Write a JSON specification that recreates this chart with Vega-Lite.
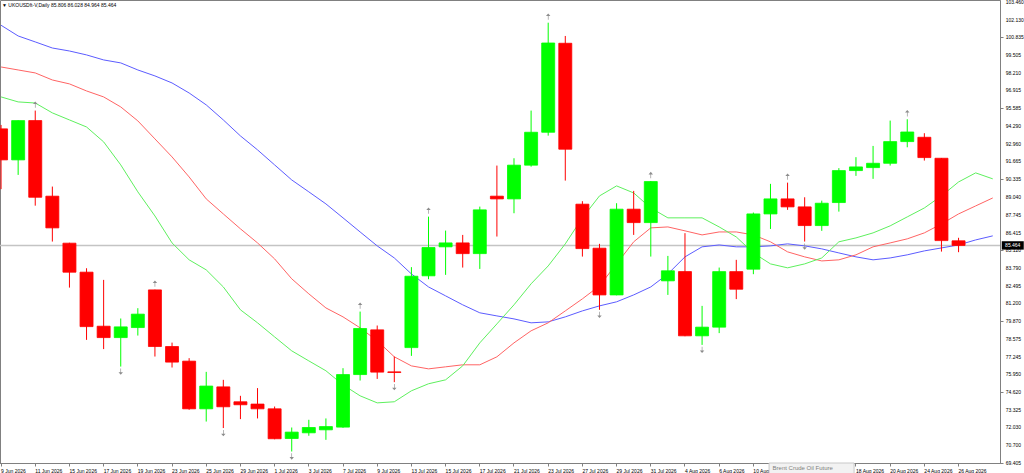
{
  "$schema": "https://vega.github.io/schema/vega-lite/v6.json",
  "width": 1000,
  "height": 463,
  "autosize": {"type": "none"},
  "padding": {"left": 0, "top": 0, "right": 24, "bottom": 10},
  "background": "white",
  "title": {
    "text": "▼ UKOUSDft-V,Daily  85.806 86.028 84.964 85.464",
    "anchor": "start",
    "frame": "group",
    "offset": -8,
    "dx": 2,
    "fontSize": 5,
    "fontWeight": "normal",
    "font": "Liberation Sans",
    "color": "black"
  },
  "config": {
    "view": {"stroke": "#808080"},
    "font": "Liberation Sans"
  },
  "datasets": {
    "priceLabels": [
      {"v": 103.46}, {"v": 102.13}, {"v": 100.835}, {"v": 99.505}, {"v": 98.21}, {"v": 96.915}, {"v": 95.585}, {"v": 94.29}, {"v": 92.96},
      {"v": 91.665}, {"v": 90.335}, {"v": 89.04}, {"v": 87.745}, {"v": 86.415}, {"v": 85.12}, {"v": 83.79}, {"v": 82.495}, {"v": 81.2},
      {"v": 79.87}, {"v": 78.575}, {"v": 77.245}, {"v": 75.95}, {"v": 74.62}, {"v": 73.325}, {"v": 72.03}, {"v": 70.7}, {"v": 69.405}
    ]
  },
  "data": {
    "values": [
      {"date": "9 Jun 2026", "open": 94.07, "high": 94.36, "low": 89.62, "close": 91.78, "blue": 101.72, "red": 98.64, "green": 96.43},
      {"date": "10 Jun 2026", "open": 91.78, "high": 94.7, "low": 90.67, "close": 94.68, "blue": 100.93, "red": 98.42, "green": 96.06},
      {"date": "11 Jun 2026", "open": 94.68, "high": 95.42, "low": 88.4, "close": 89.02, "blue": 100.49, "red": 98.2, "green": 95.98, "fractal": "up"},
      {"date": "12 Jun 2026", "open": 89.1, "high": 89.81, "low": 85.75, "close": 86.76, "blue": 100.04, "red": 97.68, "green": 95.25},
      {"date": "15 Jun 2026", "open": 85.63, "high": 85.66, "low": 82.35, "close": 83.49, "blue": 99.82, "red": 97.39, "green": 94.73},
      {"date": "16 Jun 2026", "open": 83.49, "high": 83.78, "low": 78.49, "close": 79.47, "blue": 99.53, "red": 96.87, "green": 94.21},
      {"date": "17 Jun 2026", "open": 79.5, "high": 82.92, "low": 77.81, "close": 78.66, "blue": 99.16, "red": 96.43, "green": 93.11},
      {"date": "18 Jun 2026", "open": 78.66, "high": 80.07, "low": 76.52, "close": 79.45, "blue": 98.94, "red": 95.69, "green": 91.41, "fractal": "down"},
      {"date": "19 Jun 2026", "open": 79.4, "high": 80.83, "low": 78.81, "close": 80.39, "blue": 98.42, "red": 94.66, "green": 89.42},
      {"date": "22 Jun 2026", "open": 82.18, "high": 82.2, "low": 77.26, "close": 78.0, "blue": 97.98, "red": 93.33, "green": 87.64, "fractal": "up"},
      {"date": "23 Jun 2026", "open": 78.0, "high": 78.29, "low": 76.45, "close": 76.85, "blue": 97.46, "red": 92.0, "green": 85.65},
      {"date": "24 Jun 2026", "open": 76.92, "high": 77.14, "low": 73.33, "close": 73.4, "blue": 96.72, "red": 90.52, "green": 84.4},
      {"date": "25 Jun 2026", "open": 73.4, "high": 76.13, "low": 72.46, "close": 75.08, "blue": 95.84, "red": 88.9, "green": 83.66},
      {"date": "26 Jun 2026", "open": 75.02, "high": 75.54, "low": 71.98, "close": 73.55, "blue": 94.73, "red": 87.79, "green": 82.4, "fractal": "down"},
      {"date": "29 Jun 2026", "open": 73.92, "high": 74.36, "low": 72.64, "close": 73.7, "blue": 93.55, "red": 86.69, "green": 80.71},
      {"date": "30 Jun 2026", "open": 73.75, "high": 74.93, "low": 72.69, "close": 73.4, "blue": 92.52, "red": 85.65, "green": 79.75},
      {"date": "1 Jul 2026", "open": 73.4, "high": 73.57, "low": 71.15, "close": 71.19, "blue": 91.41, "red": 84.47, "green": 78.71},
      {"date": "2 Jul 2026", "open": 71.21, "high": 72.02, "low": 70.25, "close": 71.68, "blue": 90.3, "red": 83.0, "green": 77.68, "fractal": "down"},
      {"date": "3 Jul 2026", "open": 71.63, "high": 72.59, "low": 71.41, "close": 72.02, "blue": 89.42, "red": 81.89, "green": 76.94},
      {"date": "6 Jul 2026", "open": 71.85, "high": 72.69, "low": 71.11, "close": 72.09, "blue": 88.53, "red": 80.85, "green": 76.21},
      {"date": "7 Jul 2026", "open": 72.05, "high": 76.4, "low": 72.0, "close": 75.93, "blue": 87.5, "red": 80.19, "green": 75.17},
      {"date": "8 Jul 2026", "open": 75.93, "high": 80.58, "low": 75.49, "close": 79.33, "blue": 86.46, "red": 79.38, "green": 74.36, "fractal": "up"},
      {"date": "9 Jul 2026", "open": 79.23, "high": 79.55, "low": 75.61, "close": 76.11, "blue": 85.43, "red": 78.42, "green": 73.84},
      {"date": "10 Jul 2026", "open": 76.13, "high": 77.26, "low": 75.37, "close": 76.08, "blue": 84.54, "red": 77.24, "green": 73.92, "fractal": "down"},
      {"date": "13 Jul 2026", "open": 77.92, "high": 83.86, "low": 77.31, "close": 83.19, "blue": 83.36, "red": 76.57, "green": 74.73},
      {"date": "14 Jul 2026", "open": 83.22, "high": 87.59, "low": 82.97, "close": 85.31, "blue": 82.4, "red": 76.35, "green": 75.25, "fractal": "up"},
      {"date": "15 Jul 2026", "open": 85.36, "high": 86.56, "low": 83.29, "close": 85.65, "blue": 81.74, "red": 76.5, "green": 75.54},
      {"date": "16 Jul 2026", "open": 85.65, "high": 86.24, "low": 83.83, "close": 84.86, "blue": 81.08, "red": 76.65, "green": 76.57},
      {"date": "17 Jul 2026", "open": 84.86, "high": 88.33, "low": 83.73, "close": 88.09, "blue": 80.49, "red": 76.65, "green": 78.27},
      {"date": "20 Jul 2026", "open": 89.1, "high": 91.36, "low": 86.12, "close": 88.9, "blue": 80.26, "red": 77.24, "green": 79.67},
      {"date": "21 Jul 2026", "open": 88.9, "high": 91.9, "low": 87.84, "close": 91.39, "blue": 80.04, "red": 78.27, "green": 81.08},
      {"date": "22 Jul 2026", "open": 91.39, "high": 95.42, "low": 91.28, "close": 93.82, "blue": 79.75, "red": 79.16, "green": 82.63},
      {"date": "23 Jul 2026", "open": 93.82, "high": 101.91, "low": 93.57, "close": 100.41, "blue": 79.82, "red": 79.75, "green": 83.95, "fractal": "up"},
      {"date": "24 Jul 2026", "open": 100.39, "high": 100.93, "low": 90.25, "close": 92.57, "blue": 80.19, "red": 80.63, "green": 85.58},
      {"date": "27 Jul 2026", "open": 88.51, "high": 88.73, "low": 84.64, "close": 85.23, "blue": 80.63, "red": 81.52, "green": 87.5},
      {"date": "28 Jul 2026", "open": 85.26, "high": 85.58, "low": 80.71, "close": 81.81, "blue": 81.0, "red": 82.48, "green": 89.12, "fractal": "down"},
      {"date": "29 Jul 2026", "open": 81.81, "high": 88.58, "low": 81.78, "close": 88.14, "blue": 81.3, "red": 84.1, "green": 89.86},
      {"date": "30 Jul 2026", "open": 88.14, "high": 89.49, "low": 86.24, "close": 87.15, "blue": 81.81, "red": 85.73, "green": 89.34},
      {"date": "31 Jul 2026", "open": 87.15, "high": 90.22, "low": 84.64, "close": 90.18, "blue": 82.4, "red": 86.76, "green": 88.23, "fractal": "up"},
      {"date": "3 Aug 2026", "open": 82.85, "high": 84.69, "low": 81.81, "close": 83.59, "blue": 83.36, "red": 86.83, "green": 87.5},
      {"date": "4 Aug 2026", "open": 83.53, "high": 86.37, "low": 78.76, "close": 78.79, "blue": 84.62, "red": 86.54, "green": 87.5},
      {"date": "5 Aug 2026", "open": 78.79, "high": 81.0, "low": 78.12, "close": 79.43, "blue": 85.36, "red": 86.24, "green": 87.5, "fractal": "down"},
      {"date": "6 Aug 2026", "open": 79.43, "high": 83.83, "low": 78.99, "close": 83.53, "blue": 85.5, "red": 86.46, "green": 86.83},
      {"date": "7 Aug 2026", "open": 83.53, "high": 84.4, "low": 81.5, "close": 82.23, "blue": 85.36, "red": 86.46, "green": 86.09},
      {"date": "10 Aug 2026", "open": 83.71, "high": 87.89, "low": 83.34, "close": 87.79, "blue": 85.36, "red": 86.24, "green": 84.91},
      {"date": "11 Aug 2026", "open": 87.79, "high": 90.01, "low": 86.68, "close": 88.9, "blue": 85.43, "red": 85.73, "green": 84.1},
      {"date": "12 Aug 2026", "open": 88.9, "high": 90.1, "low": 88.09, "close": 88.31, "blue": 85.58, "red": 84.99, "green": 83.81, "fractal": "up"},
      {"date": "13 Aug 2026", "open": 88.31, "high": 89.02, "low": 85.75, "close": 86.93, "blue": 85.43, "red": 84.62, "green": 84.1, "fractal": "down"},
      {"date": "14 Aug 2026", "open": 86.93, "high": 88.77, "low": 86.54, "close": 88.58, "blue": 85.21, "red": 84.32, "green": 84.54},
      {"date": "17 Aug 2026", "open": 88.63, "high": 91.17, "low": 87.96, "close": 90.99, "blue": 84.91, "red": 84.4, "green": 85.73},
      {"date": "18 Aug 2026", "open": 90.99, "high": 91.98, "low": 90.6, "close": 91.26, "blue": 84.62, "red": 84.77, "green": 86.02},
      {"date": "19 Aug 2026", "open": 91.21, "high": 92.81, "low": 90.38, "close": 91.53, "blue": 84.4, "red": 85.36, "green": 86.39},
      {"date": "20 Aug 2026", "open": 91.53, "high": 94.68, "low": 91.36, "close": 93.13, "blue": 84.54, "red": 85.65, "green": 86.91},
      {"date": "21 Aug 2026", "open": 93.13, "high": 94.78, "low": 92.71, "close": 93.84, "blue": 84.77, "red": 85.95, "green": 87.57, "fractal": "up"},
      {"date": "24 Aug 2026", "open": 93.45, "high": 93.75, "low": 91.73, "close": 91.95, "blue": 85.06, "red": 86.39, "green": 88.23},
      {"date": "25 Aug 2026", "open": 91.9, "high": 91.92, "low": 85.01, "close": 85.82, "blue": 85.28, "red": 87.05, "green": 89.12},
      {"date": "26 Aug 2026", "open": 85.806, "high": 86.028, "low": 84.964, "close": 85.464, "blue": 85.5, "red": 87.79, "green": 90.15},
      {"date": "27 Aug 2026", "blue": 85.87, "red": 88.38, "green": 90.82},
      {"date": "28 Aug 2026", "blue": 86.17, "red": 88.97, "green": 90.38}
    ]
  },
  "layer": [
    {
      "data": {"values": [{"price": 85.464}]},
      "mark": {"type": "rule", "color": "#c4c4c4", "strokeWidth": 1.5},
      "encoding": {
        "y": {
          "field": "price",
          "type": "quantitative",
          "title": null,
          "scale": {"domain": [69.4, 103.585], "nice": false, "zero": false},
          "axis": {
            "orient": "right",
            "values": [103.46, 102.13, 100.835, 99.505, 98.21, 96.915, 95.585, 94.29, 92.96, 91.665, 90.335, 89.04, 87.745, 86.415, 85.12, 83.79, 82.495, 81.2, 79.87, 78.575, 77.245, 75.95, 74.62, 73.325, 72.03, 70.7, 69.405],
            "labels": false,
            "tickSize": 3,
            "tickColor": "#808080",
            "domainColor": "#808080",
            "grid": false
          }
        }
      }
    },
    {
      "encoding": {
        "x": {
          "field": "date",
          "type": "nominal",
          "title": null,
          "scale": {
            "type": "band",
            "domain": ["9 Jun 2026", "10 Jun 2026", "11 Jun 2026", "12 Jun 2026", "15 Jun 2026", "16 Jun 2026", "17 Jun 2026", "18 Jun 2026", "19 Jun 2026", "22 Jun 2026", "23 Jun 2026", "24 Jun 2026", "25 Jun 2026", "26 Jun 2026", "29 Jun 2026", "30 Jun 2026", "1 Jul 2026", "2 Jul 2026", "3 Jul 2026", "6 Jul 2026", "7 Jul 2026", "8 Jul 2026", "9 Jul 2026", "10 Jul 2026", "13 Jul 2026", "14 Jul 2026", "15 Jul 2026", "16 Jul 2026", "17 Jul 2026", "20 Jul 2026", "21 Jul 2026", "22 Jul 2026", "23 Jul 2026", "24 Jul 2026", "27 Jul 2026", "28 Jul 2026", "29 Jul 2026", "30 Jul 2026", "31 Jul 2026", "3 Aug 2026", "4 Aug 2026", "5 Aug 2026", "6 Aug 2026", "7 Aug 2026", "10 Aug 2026", "11 Aug 2026", "12 Aug 2026", "13 Aug 2026", "14 Aug 2026", "17 Aug 2026", "18 Aug 2026", "19 Aug 2026", "20 Aug 2026", "21 Aug 2026", "24 Aug 2026", "25 Aug 2026", "26 Aug 2026", "27 Aug 2026", "28 Aug 2026"],
            "range": [-7.5, 1001.3],
            "paddingInner": 0,
            "paddingOuter": 0
          },
          "axis": {
            "orient": "bottom",
            "values": ["9 Jun 2026", "11 Jun 2026", "15 Jun 2026", "17 Jun 2026", "19 Jun 2026", "23 Jun 2026", "25 Jun 2026", "29 Jun 2026", "1 Jul 2026", "3 Jul 2026", "7 Jul 2026", "9 Jul 2026", "13 Jul 2026", "15 Jul 2026", "17 Jul 2026", "21 Jul 2026", "23 Jul 2026", "27 Jul 2026", "29 Jul 2026", "31 Jul 2026", "4 Aug 2026", "6 Aug 2026", "10 Aug 2026", "18 Aug 2026", "20 Aug 2026", "24 Aug 2026", "26 Aug 2026"],
            "labelAngle": 0,
            "labelAlign": "left",
            "labelBaseline": "top",
            "labelDx": 1,
            "labelPadding": 2,
            "labelFontSize": 5,
            "labelColor": "black",
            "labelOverlap": false,
            "labelFlush": false,
            "tickSize": 3,
            "tickColor": "#808080",
            "domainColor": "#808080",
            "grid": false
          }
        }
      },
      "layer": [
        {
          "mark": {"type": "line", "color": "#5c5cff", "strokeWidth": 1, "clip": true},
          "encoding": {"y": {"field": "blue", "type": "quantitative", "title": null}}
        },
        {
          "mark": {"type": "line", "color": "#ff6464", "strokeWidth": 1, "clip": true},
          "encoding": {"y": {"field": "red", "type": "quantitative", "title": null}}
        },
        {
          "mark": {"type": "line", "color": "#5ef05e", "strokeWidth": 1, "clip": true},
          "encoding": {"y": {"field": "green", "type": "quantitative", "title": null}}
        },
        {
          "transform": [{"filter": "isValid(datum.open)"}],
          "mark": {"type": "rule", "strokeWidth": 1, "clip": true},
          "encoding": {
            "y": {"field": "low", "type": "quantitative", "title": null},
            "y2": {"field": "high"},
            "color": {"condition": {"test": "datum.close >= datum.open", "value": "#00ff00"}, "value": "#ff0000"}
          }
        },
        {
          "transform": [{"filter": "isValid(datum.open)"}],
          "mark": {"type": "bar", "width": {"band": 0.76}, "strokeWidth": 0.8, "clip": true},
          "encoding": {
            "y": {"field": "open", "type": "quantitative", "title": null},
            "y2": {"field": "close"},
            "color": {"condition": {"test": "datum.close >= datum.open", "value": "#00ff00"}, "value": "#ff0000"},
            "stroke": {"condition": {"test": "datum.close >= datum.open", "value": "#00ff00"}, "value": "#ff0000"}
          }
        },
        {
          "transform": [{"filter": "datum.fractal == 'up'"}],
          "mark": {"type": "point", "shape": "M-0.1,1V-0.2H-0.7L0,-1L0.7,-0.2H0.1V1Z", "filled": true, "size": 40, "color": "#8c8c8c", "opacity": 1, "yOffset": -6, "clip": true},
          "encoding": {"y": {"field": "high", "type": "quantitative", "title": null}}
        },
        {
          "transform": [{"filter": "datum.fractal == 'down'"}],
          "mark": {"type": "point", "shape": "M-0.1,-1V0.2H-0.7L0,1L0.7,0.2H0.1V-1Z", "filled": true, "size": 40, "color": "#8c8c8c", "opacity": 1, "yOffset": 5, "clip": true},
          "encoding": {"y": {"field": "low", "type": "quantitative", "title": null}}
        },
        {
          "data": {"name": "priceLabels"},
          "mark": {"type": "text", "color": "black", "fontSize": 5, "align": "left", "baseline": "middle", "dx": 13, "clip": false},
          "encoding": {
            "x": {"datum": "28 Aug 2026"},
            "y": {"field": "v", "type": "quantitative", "title": null},
            "text": {"field": "v", "format": ".3f"}
          }
        },
        {
          "data": {"values": [{"date": "28 Aug 2026", "price": 85.464, "label": "85.464"}]},
          "mark": {"type": "point", "shape": "M-1.1,-0.42H1.1V0.42H-1.1Z", "filled": true, "size": 400, "color": "black", "opacity": 1, "xOffset": 20, "clip": false},
          "encoding": {"y": {"field": "price", "type": "quantitative", "title": null}}
        },
        {
          "data": {"values": [{"date": "28 Aug 2026", "price": 85.464, "label": "85.464"}]},
          "mark": {"type": "text", "color": "white", "fontSize": 5, "align": "center", "baseline": "middle", "xOffset": 20, "clip": false},
          "encoding": {
            "y": {"field": "price", "type": "quantitative", "title": null},
            "text": {"field": "label"}
          }
        },
        {
          "data": {"values": [{"date": "12 Aug 2026", "price": 69.4, "label": "Brent Crude Oil Future"}]},
          "mark": {"type": "point", "shape": "M-0.85,-0.12H0.85V0.12H-0.85Z", "filled": true, "size": 10000, "color": "#f2f2f2", "stroke": "#c8c8c8", "strokeWidth": 1, "opacity": 1, "xOffset": 24, "yOffset": 6, "clip": false},
          "encoding": {"y": {"field": "price", "type": "quantitative", "title": null}}
        },
        {
          "data": {"values": [{"date": "12 Aug 2026", "price": 69.4, "label": "Brent Crude Oil Future"}]},
          "mark": {"type": "text", "color": "#808080", "fontSize": 6, "align": "left", "baseline": "middle", "dx": -15, "dy": 4.5, "clip": false},
          "encoding": {
            "y": {"field": "price", "type": "quantitative", "title": null},
            "text": {"field": "label"}
          }
        }
      ]
    }
  ]
}
